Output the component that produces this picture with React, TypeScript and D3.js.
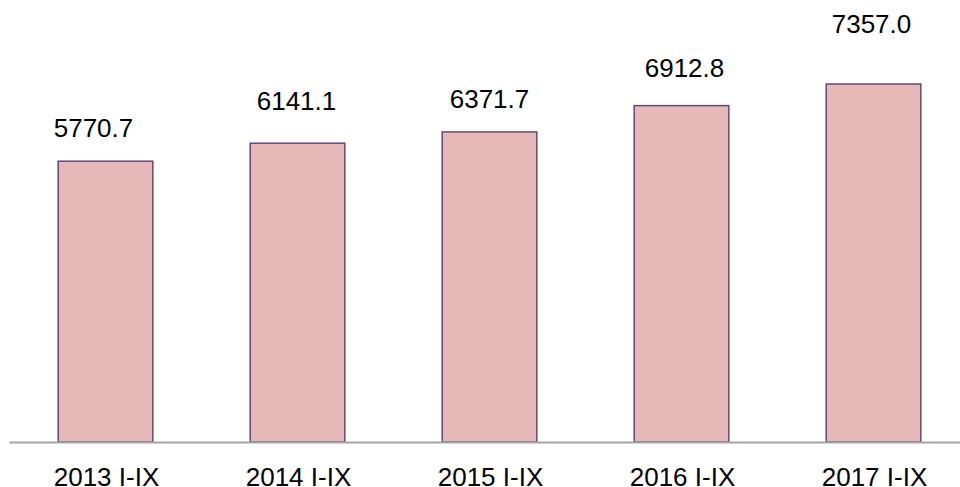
import React, { useRef, useEffect } from 'react';
import * as d3 from 'd3';

// ── Data ──────────────────────────────────────────────────────────────────────
const PERIODS = ['2013 I-IX', '2014 I-IX', '2015 I-IX', '2016 I-IX', '2017 I-IX'];
const VALUES = [5770.7, 6141.1, 6371.7, 6912.8, 7357.0];

const WIDTH = 960;
const HEIGHT = 487;
const FONT = '"Liberation Sans", Arial, sans-serif';

// hand-placed data labels in the original (nudge from bar top centre)
const LABEL_NUDGE: [number, number][] = [[-12, -24], [-1, -33], [0, -24], [3, -29], [-2, -51]];

export default function App() {
  const svgRef = useRef<SVGSVGElement>(null);

  useEffect(() => {
    if (!svgRef.current) return;
    const svg = d3.select(svgRef.current);
    svg.selectAll('*').remove();

    // ── Scales ────────────────────────────────────────────────────────────────
    const baseline = 442;
    const x = d3.scaleBand<string>().domain(PERIODS).range([9.5, 969.5]).paddingInner(0.507).paddingOuter(0.2535);
    const y = d3.scaleLinear().domain([0, 8000]).range([baseline, baseline - 8000 * 0.04866]);

    // ── Bars ──────────────────────────────────────────────────────────────────
    svg.append('g')
      .selectAll('rect')
      .data(PERIODS)
      .join('rect')
      .attr('x', d => x(d)!)
      .attr('y', (_, i) => y(VALUES[i]))
      .attr('width', x.bandwidth())
      .attr('height', (_, i) => baseline - y(VALUES[i]))
      .attr('fill', '#e6b8b7')
      .attr('stroke', '#604a7b')
      .attr('stroke-width', 1.5);

    // ── Value labels ──────────────────────────────────────────────────────────
    svg.append('g')
      .selectAll('text')
      .data(PERIODS)
      .join('text')
      .attr('x', (d, i) => x(d)! + x.bandwidth() / 2 + LABEL_NUDGE[i][0])
      .attr('y', (_, i) => y(VALUES[i]) + LABEL_NUDGE[i][1])
      .attr('text-anchor', 'middle')
      .attr('font-family', FONT)
      .attr('font-size', 26)
      .attr('fill', '#000')
      .text((_, i) => VALUES[i].toFixed(1));

    // ── X axis ────────────────────────────────────────────────────────────────
    svg.append('line')
      .attr('x1', 9.5).attr('x2', WIDTH)
      .attr('y1', baseline + 0.5).attr('y2', baseline + 0.5)
      .attr('stroke', '#a6a6a6')
      .attr('stroke-width', 2);

    svg.append('g')
      .selectAll('text')
      .data(PERIODS)
      .join('text')
      .attr('x', d => x(d)! + x.bandwidth() / 2 + 1)
      .attr('y', 485.5)
      .attr('text-anchor', 'middle')
      .attr('font-family', FONT)
      .attr('font-size', 26)
      .attr('fill', '#000')
      .text(d => d);
  }, []);

  return (
    <svg
      ref={svgRef}
      width={WIDTH}
      height={HEIGHT}
      style={{ position: 'absolute', left: 0, top: 0, background: '#fff' }}
    />
  );
}
